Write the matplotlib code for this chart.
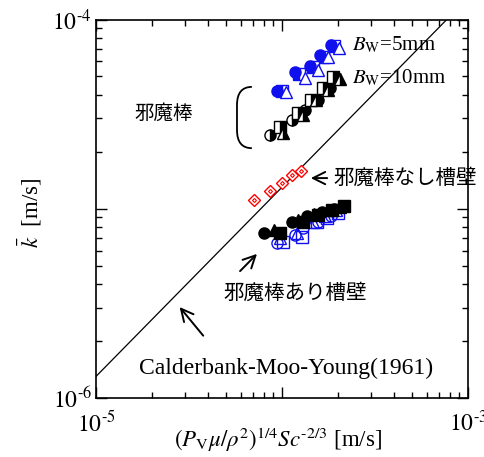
"""
Mass transfer coefficient vs. Calderbank-Moo-Young correlation (log-log).
"""
import numpy as np
import matplotlib
matplotlib.use('Agg')
import matplotlib.pyplot as plt
from matplotlib.path import Path
from matplotlib.patches import PathPatch

plt.rcParams['font.family'] = ['Liberation Serif', 'DejaVu Serif']
plt.rcParams['mathtext.fontset'] = 'stix'

JP = ['Noto Sans CJK JP', 'DejaVu Sans']

# --- data -------------------------------------------------------------
# baffle, Bw = 5 mm (blue)
b5_circ_x = [9.40e-5, 1.175e-4, 1.414e-4, 1.60e-4, 1.83e-4]
b5_circ_y = [4.21e-5, 5.31e-5, 5.71e-5, 6.53e-5, 7.37e-5]
b5_sq_x = [1.00e-4, 1.234e-4, 1.468e-4, 1.661e-4, 1.904e-4]
b5_sq_y = [4.21e-5, 5.18e-5, 5.64e-5, 6.30e-5, 7.28e-5]
b5_tri_x = [1.05e-4, 1.33e-4, 1.56e-4, 1.77e-4, 2.03e-4]
b5_tri_y = [4.16e-5, 4.93e-5, 5.44e-5, 6.30e-5, 7.11e-5]

# baffle, Bw = 10 mm (black)
b10_circ_x = [8.62e-5, 1.13e-4, 1.33e-4, 1.56e-4, 1.81e-4]
b10_circ_y = [2.46e-5, 2.96e-5, 3.34e-5, 3.77e-5, 4.37e-5]
b10_sq_x = [9.75e-5, 1.22e-4, 1.43e-4, 1.66e-4, 1.88e-4]
b10_sq_y = [2.72e-5, 3.22e-5, 3.77e-5, 4.37e-5, 4.99e-5]
b10_tri_x = [1.01e-4, 1.30e-4, 1.52e-4, 1.77e-4, 2.05e-4]
b10_tri_y = [2.52e-5, 3.14e-5, 3.77e-5, 4.26e-5, 4.87e-5]

# wall without baffle (red)
nob_x = [7.07e-5, 8.62e-5, 1.00e-4, 1.13e-4, 1.265e-4]
nob_y = [1.116e-5, 1.245e-5, 1.373e-5, 1.513e-5, 1.589e-5]

# wall with baffle, black filled
wb_circ_x = [8.00e-5, 1.13e-4, 1.36e-4, 1.64e-4, 1.90e-4]
wb_circ_y = [7.46e-6, 8.54e-6, 9.18e-6, 9.64e-6, 1.00e-5]
wb_tri_x = [9.06e-5, 1.22e-4, 1.49e-4, 1.77e-4, 2.05e-4]
wb_tri_y = [7.74e-6, 8.75e-6, 9.41e-6, 9.88e-6, 1.025e-5]
wb_sq_x = [9.75e-5, 1.30e-4, 1.56e-4, 1.86e-4, 2.15e-4]
wb_sq_y = [7.46e-6, 8.54e-6, 9.30e-6, 9.88e-6, 1.037e-5]

# wall with baffle, blue open
wo_circ_x = [9.40e-5, 1.175e-4, 1.30e-4, 1.56e-4, 1.83e-4]
wo_circ_y = [6.61e-6, 7.29e-6, 7.94e-6, 8.54e-6, 9.18e-6]
wo_sq_x = [1.01e-4, 1.28e-4, 1.54e-4, 1.75e-4, 2.00e-4]
wo_sq_y = [6.69e-6, 7.11e-6, 8.54e-6, 8.96e-6, 9.52e-6]
wo_tri_x = [9.75e-5, 1.20e-4, 1.47e-4, 1.70e-4, 1.95e-4]
wo_tri_y = [7.03e-6, 7.46e-6, 8.54e-6, 9.18e-6, 9.88e-6]

# Calderbank-Moo-Young: k = 0.13 x
cmy_coef = 0.13
cmy_x = [1e-5, 1e-3]

xticks = [1e-5, 1e-4, 1e-3]
xticklabels = [r'$10^{\text{-}5}$', '', r'$10^{\text{-}3}$']
yticks = [1e-6, 1e-5, 1e-4]
yticklabels = [r'$10^{\text{-}6}$', '', r'$10^{\text{-}4}$']

# --- figure -----------------------------------------------------------
fig = plt.figure(figsize=(4.85, 4.57), dpi=100)
ax = fig.add_axes([96 / 485, 59 / 457, 372 / 485, 378.5 / 457])
ax.set_xscale('log')
ax.set_yscale('log')
ax.set_xlim(1e-5, 1e-3)
ax.set_ylim(1e-6, 1e-4)

ax.plot(cmy_x, [cmy_coef * v for v in cmy_x], color='black', lw=0.9)

ms = 8
blue = '#1010ee'
# wall with baffle
ax.plot(wo_circ_x, wo_circ_y, 'o', ms=ms, mfc='none', mec=blue, mew=1.0, ls='none')
ax.plot(wo_tri_x, wo_tri_y, '^', ms=ms, mfc='none', mec=blue, mew=1.0, ls='none')
ax.plot(wo_sq_x, wo_sq_y, 's', ms=ms, mfc='none', mec=blue, mew=1.0, ls='none')
ax.plot(wb_circ_x, wb_circ_y, 'o', ms=ms, color='black', ls='none')
ax.plot(wb_tri_x, wb_tri_y, '^', ms=ms, color='black', ls='none')
ax.plot(wb_sq_x, wb_sq_y, 's', ms=ms, color='black', ls='none')

# wall without baffle
ax.plot(nob_x, nob_y, 'D', ms=6, mfc='white', mec='red', mew=1.0, ls='none')
ax.plot(nob_x, nob_y, 'D', ms=2, mfc='white', mec='red', mew=0.8, ls='none')

# baffle Bw=10 mm
for xs, ys, m in [(b10_circ_x, b10_circ_y, 'o'), (b10_sq_x, b10_sq_y, 's'),
                  (b10_tri_x, b10_tri_y, '^')]:
    ax.plot(xs, ys, m, ms=ms, fillstyle='right', color='black',
            markerfacecoloralt='white', mec='black', mew=1.0, ls='none')

# baffle Bw=5 mm
ax.plot(b5_sq_x, b5_sq_y, 's', ms=ms, fillstyle='left', color=blue,
        markerfacecoloralt='white', mec=blue, mew=1.0, ls='none')
ax.plot(b5_circ_x, b5_circ_y, 'o', ms=ms, color=blue, ls='none')
ax.plot(b5_tri_x, b5_tri_y, '^', ms=ms, mfc='white', mec=blue, mew=1.0, ls='none')

# ticks
ax.set_xticks(xticks)
ax.set_xticklabels(xticklabels)
ax.set_yticks(yticks)
ax.set_yticklabels(yticklabels)
ax.tick_params(which='both', direction='in', top=True, right=True, width=1.0,
               labelsize=17)
ax.tick_params(which='major', length=8)
ax.tick_params(which='minor', length=4.5)
ax.tick_params(axis='x', which='major', pad=9)
ax.tick_params(axis='y', which='major', pad=3)
for sp in ax.spines.values():
    sp.set_linewidth(1.2)

ax.set_xlabel(r'$(P_{\rm V}\mu/\rho^{2})^{1/4}Sc^{\text{-}2/3}$ [m/s]', fontsize=16.5,
              va='center')
ax.xaxis.set_label_coords(0.49, -0.112)
ax.set_ylabel(r'$\bar{k}$  [m/s]', fontsize=16.5, va='center')
ax.yaxis.set_label_coords(-0.175, 0.49)

# labels & arrows
ax.text(0.688, 0.933, r'$B_{\rm W}$=5mm', transform=ax.transAxes, fontsize=15,
        va='center', ha='left')
ax.text(0.688, 0.845, r'$B_{\rm W}$=10mm', transform=ax.transAxes, fontsize=15,
        va='center', ha='left')

ax.text(0.183, 0.753, '邪魔棒', transform=ax.transAxes, fontsize=14,
        va='center', ha='center', family=JP)
brace = Path([(0.419, 0.822), (0.379, 0.822), (0.379, 0.774), (0.379, 0.708),
              (0.379, 0.660), (0.419, 0.660)],
             [Path.MOVETO, Path.CURVE3, Path.CURVE3, Path.LINETO, Path.CURVE3, Path.CURVE3])
ax.add_patch(PathPatch(brace, transform=ax.transAxes, fc='none', ec='black', lw=1.3))

arrow = dict(arrowstyle='->', color='black', lw=1.4, mutation_scale=22)
ax.annotate('', xy=(0.570, 0.581), xytext=(0.629, 0.581), xycoords='axes fraction',
            arrowprops=arrow)
ax.text(0.637, 0.581, '邪魔棒なし槽壁', transform=ax.transAxes, fontsize=14.8,
        va='center', ha='left', family=JP)

ax.annotate('', xy=(0.438, 0.386), xytext=(0.382, 0.330), xycoords='axes fraction',
            arrowprops=arrow)
ax.text(0.535, 0.277, '邪魔棒あり槽壁', transform=ax.transAxes, fontsize=14.8,
        va='center', ha='center', family=JP)

ax.annotate('', xy=(0.220, 0.246), xytext=(0.293, 0.159), xycoords='axes fraction',
            arrowprops=arrow)
ax.text(0.511, 0.079, 'Calderbank-Moo-Young(1961)', transform=ax.transAxes,
        fontsize=17, va='center', ha='center')

fig.savefig('out.png', dpi=100)
